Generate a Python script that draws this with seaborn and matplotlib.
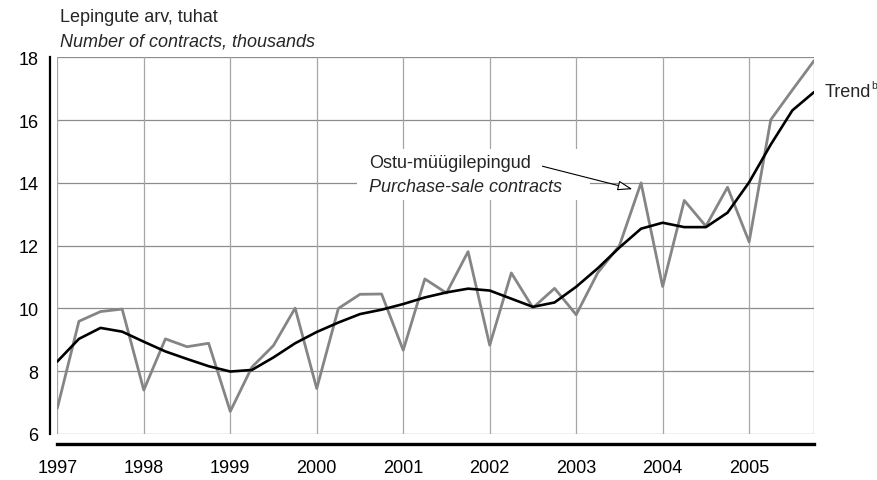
import numpy as np
import pandas as pd
import matplotlib
matplotlib.use("Agg")
import matplotlib.pyplot as plt
from matplotlib.patches import Rectangle
import seaborn as sns

# Quarterly number of contracts (thousands), 1997 Q1 .. 2005 Q4
quarters = [f"{y}Q{q}" for y in range(1997, 2006) for q in range(1, 5)]
contracts = [
    6.82, 9.59, 9.90, 9.98,
    7.40, 9.03, 8.78, 8.89,
    6.72, 8.13, 8.82, 10.01,
    7.45, 10.00, 10.45, 10.46,
    8.67, 10.94, 10.49, 11.81,
    8.83, 11.13, 10.02, 10.64,
    9.80, 11.14, 12.00, 14.00,
    10.70, 13.44, 12.62, 13.86,
    12.12, 16.01, 16.96, 17.89,
]
trend = [
    8.31, 9.03, 9.38, 9.26,
    8.94, 8.63, 8.39, 8.16,
    7.99, 8.04, 8.44, 8.89,
    9.25, 9.55, 9.82, 9.96,
    10.14, 10.35, 10.51, 10.63,
    10.57, 10.31, 10.05, 10.19,
    10.69, 11.28, 11.94, 12.54,
    12.73, 12.59, 12.59, 13.05,
    14.02, 15.22, 16.31, 16.89,
]
year_labels = [str(y) for y in range(1997, 2006)]
y_ticks = [6, 8, 10, 12, 14, 16, 18]

t = [int(q[:4]) + (int(q[-1]) - 1) / 4 for q in quarters]
df = pd.DataFrame({"t": t, "contracts": contracts, "trend": trend})

sns.set_style("white")
plt.rcParams["font.family"] = ["Liberation Sans", "DejaVu Sans"]
FS = 13

fig = plt.figure(figsize=(8.77, 4.81), dpi=100)
ax = fig.add_axes([57.3 / 877, 1 - 435 / 481, (814 - 57.3) / 877, (435 - 58.3) / 481])

# grid: horizontal every 2, vertical at each year plus the closing right edge
for yv in y_ticks:
    ax.axhline(yv, color="#8c8c8c", lw=0.9, zorder=0)
for yr in range(1997, 2006):
    ax.axvline(yr, color="#a6a6a6", lw=0.9, zorder=0)
ax.axvline(t[-1], color="#8c8c8c", lw=0.9, zorder=0)

sns.lineplot(data=df, x="t", y="contracts", ax=ax, color="#858585", lw=2.0, zorder=3)
sns.lineplot(data=df, x="t", y="trend", ax=ax, color="black", lw=1.9, zorder=4)

ax.set_xlim(t[0], t[-1])
ax.set_ylim(6, 18)
ax.set_xlabel("")
ax.set_ylabel("")

ax.set_yticks(y_ticks)
ax.set_yticklabels([str(v) for v in y_ticks])
ax.set_xticks(range(1997, 2006))
ax.set_xticklabels(year_labels)

for side in ("top", "right"):
    ax.spines[side].set_visible(False)
ax.spines["left"].set_position(("outward", 5.5))
ax.spines["bottom"].set_position(("outward", 7))
ax.spines["left"].set_color("black")
ax.spines["bottom"].set_color("black")
ax.spines["left"].set_linewidth(1.6)
ax.spines["bottom"].set_linewidth(2.4)
ax.spines["bottom"].set_bounds(t[0], t[-1])
ax.spines["left"].set_bounds(6, 18)
ax.tick_params(axis="y", direction="out", length=4, width=1.0, color="black", pad=4,
               labelsize=FS, labelcolor="black")
ax.tick_params(axis="x", direction="out", length=5, width=1.6, color="black", pad=6,
               labelsize=FS, labelcolor="black")

# unit captions above the axis
fig.text(60 / 877, 1 - 18 / 481, "Lepingute arv, tuhat", fontsize=FS, va="center", ha="left")
fig.text(60 / 877, 1 - 42 / 481, "Number of contracts, thousands", fontsize=FS,
         style="italic", va="center", ha="left")

# series label on a white patch, with an arrow pointing at the 2003 Q4 peak
ax.add_patch(Rectangle((2000.47, 13.47), 2.69, 1.6, fc="white", ec="none", zorder=2))
ax.text(2000.60, 14.66, "Ostu-müügilepingud", fontsize=FS, ha="left", va="center", zorder=6)
ax.text(2000.60, 13.89, "Purchase-sale contracts", fontsize=FS, style="italic",
        ha="left", va="center", zorder=6)
ax.annotate("", xy=(2003.65, 13.8), xytext=(2002.61, 14.53),
            arrowprops=dict(arrowstyle="-|>,head_length=0.9,head_width=0.3", fc="white",
                            ec="black", lw=0.8, shrinkA=0, shrinkB=0), zorder=7)

# trend label beside the last point
fig.text(825 / 877, 1 - 93 / 481, "Trend", fontsize=FS, va="center", ha="left")
fig.text(871 / 877, 1 - 86 / 481, "b", fontsize=7.5, va="center", ha="left")

fig.savefig("out.png", dpi=100)
